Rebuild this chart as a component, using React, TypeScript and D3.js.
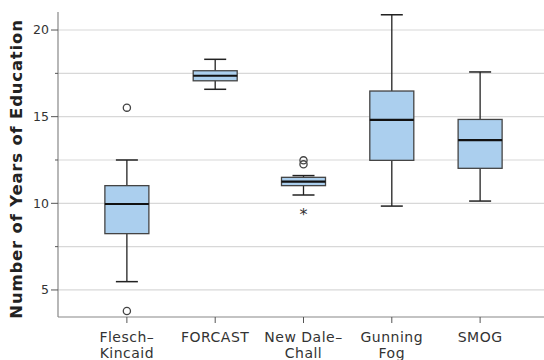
import React from "react";
import * as d3 from "d3";

const categories = ["Flesch-Kincaid", "FORCAST", "New Dale-Chall", "Gunning Fog", "SMOG"];
const labelLines = [["Flesch–", "Kincaid"], ["FORCAST"], ["New Dale–", "Chall"], ["Gunning", "Fog"], ["SMOG"]];
const whiskerLow = [5.48, 16.58, 10.48, 9.84, 10.13];
const q1 = [8.25, 17.07, 11.02, 12.48, 12.02];
const medians = [9.96, 17.36, 11.25, 14.81, 13.65];
const q3 = [11.02, 17.65, 11.5, 16.48, 14.84];
const whiskerHigh = [12.5, 18.31, 11.6, 20.88, 17.58];
const outlierCat = [0, 0, 2, 2];
const outlierVal = [15.52, 3.79, 12.48, 12.25];
const extremeCat = [2];
const extremeVal = [9.42];
const majorTicks = [5, 10, 15, 20];
const gridTicks = [5, 7.5, 10, 12.5, 15, 17.5, 20];

export default function App() {
  const W = 544, H = 360;
  const left = 58, right = 549, top = 12, bottom = 317;
  const y = d3.scaleLinear().domain([3.44, 21.04]).range([bottom, top]);
  const x = d3.scalePoint<string>().domain(categories).range([left, right]).padding(0.78);
  const bw = 44;
  const cap = 22;
  const font = "'DejaVu Sans', sans-serif";
  return (
    <svg width={W} height={H} style={{ position: "absolute", left: 0, top: 0 }}>
      <rect width={W} height={H} fill="#fff" />
      {gridTicks.map((t) => (
        <line key={"g" + t} x1={left} x2={W} y1={y(t)} y2={y(t)} stroke="#d8d8d8" strokeWidth={1.2} />
      ))}
      <line x1={left} x2={left} y1={top} y2={bottom} stroke="#888" strokeWidth={1.2} />
      <line x1={left} x2={W} y1={bottom} y2={bottom} stroke="#888" strokeWidth={1.2} />
      {gridTicks.map((t) => (
        <line key={"t" + t} x1={majorTicks.includes(t) ? left - 7 : left - 3} x2={left} y1={y(t)} y2={y(t)} stroke="#555" strokeWidth={1} />
      ))}
      {majorTicks.map((t) => (
        <text key={"l" + t} x={left - 9} y={y(t)} dy="0.35em" textAnchor="end" fontSize={12.5} fill="#333" fontFamily={font}>{t}</text>
      ))}
      <text transform={`translate(22,${169}) rotate(-90)`} textAnchor="middle" fontSize={16.5} letterSpacing={0.8} fontWeight="bold" fill="#222" fontFamily={font}>Number of Years of Education</text>
      {categories.map((c, i) => {
        const cx = x(c)!;
        return (
          <g key={c}>
            <line x1={cx} x2={cx} y1={bottom} y2={bottom + 6} stroke="#555" strokeWidth={1} />
            {labelLines[i].map((ln, j) => (
              <text key={j} x={cx} y={bottom + 25 + j * 16} textAnchor="middle" fontSize={14} letterSpacing={0.5} fill="#333" fontFamily={font}>{ln}</text>
            ))}
            <line x1={cx} x2={cx} y1={y(whiskerLow[i])} y2={y(whiskerHigh[i])} stroke="#222" strokeWidth={1.3} />
            <line x1={cx - cap / 2} x2={cx + cap / 2} y1={y(whiskerLow[i])} y2={y(whiskerLow[i])} stroke="#222" strokeWidth={1.5} />
            <line x1={cx - cap / 2} x2={cx + cap / 2} y1={y(whiskerHigh[i])} y2={y(whiskerHigh[i])} stroke="#222" strokeWidth={1.5} />
            <rect x={cx - bw / 2} width={bw} y={y(q3[i])} height={y(q1[i]) - y(q3[i])} fill="#abcfee" stroke="#444" strokeWidth={1.3} />
            <line x1={cx - bw / 2} x2={cx + bw / 2} y1={y(medians[i])} y2={y(medians[i])} stroke="#111" strokeWidth={2.2} />
          </g>
        );
      })}
      {outlierVal.map((v, i) => (
        <circle key={"o" + i} cx={x(categories[outlierCat[i]])!} cy={y(v)} r={3.6} fill="none" stroke="#444" strokeWidth={1.3} />
      ))}
      {extremeVal.map((v, i) => (
        <text key={"e" + i} x={x(categories[extremeCat[i]])!} y={y(v) + 7} textAnchor="middle" fontSize={16} fill="#333" fontFamily={font}>*</text>
      ))}
    </svg>
  );
}
